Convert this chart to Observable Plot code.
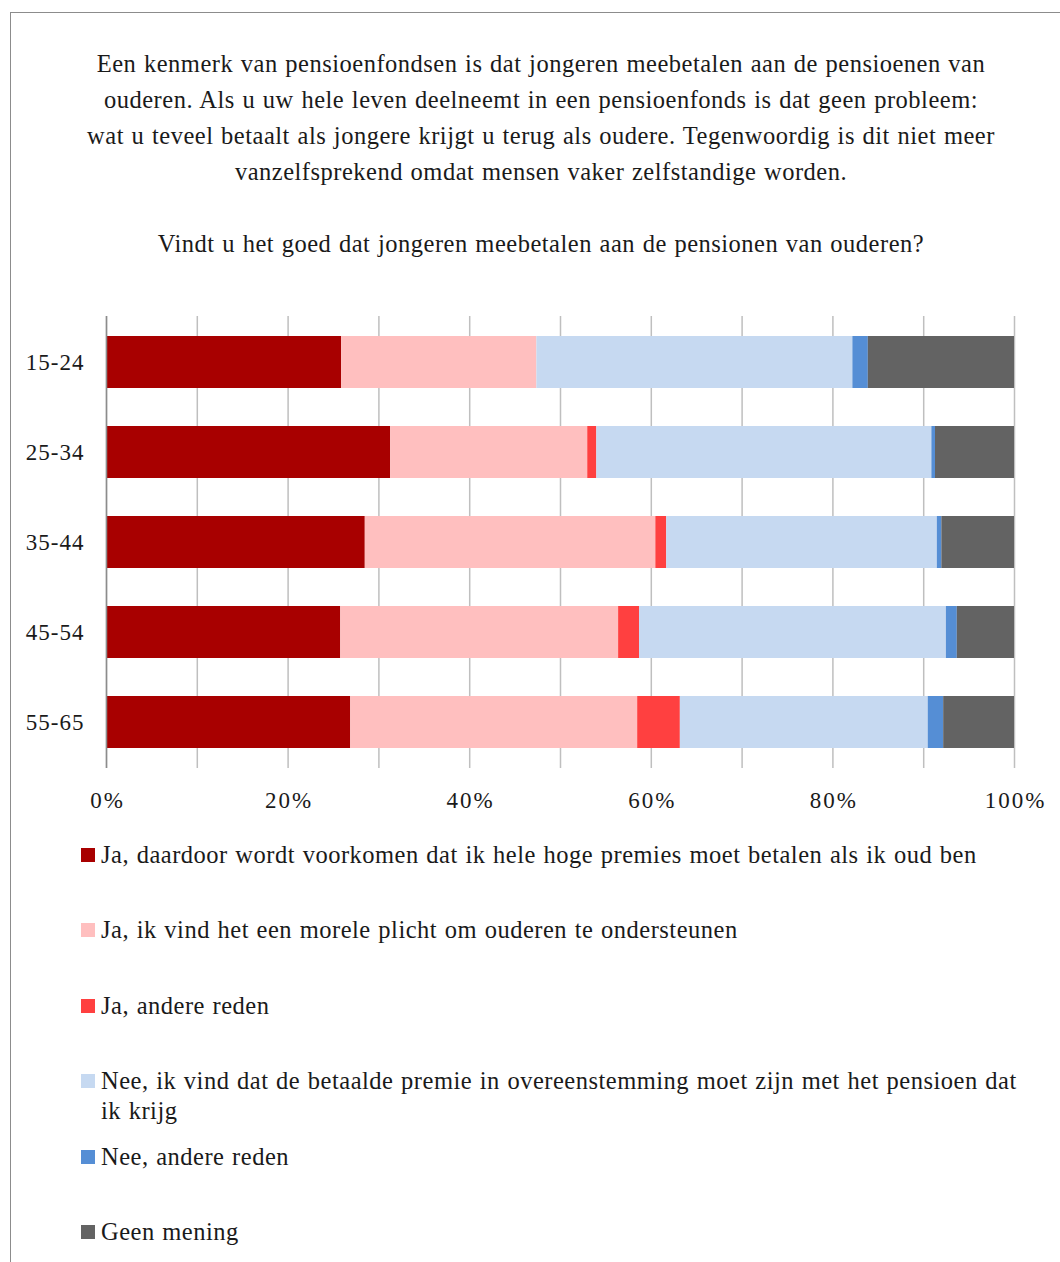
<!DOCTYPE html>
<html><head><meta charset="utf-8">
<script src="https://cdn.jsdelivr.net/npm/d3@7"></script>
<script src="https://cdn.jsdelivr.net/npm/@observablehq/plot@0.6"></script>
<style>
html,body{margin:0;padding:0;}
body{width:1060px;height:1262px;overflow:hidden;background:#fff;font-family:"Liberation Serif","DejaVu Serif",serif;color:#1a1a1a;position:relative;}
#frame{position:absolute;left:10px;top:12px;width:1080px;height:1300px;border:1.5px solid #8c8c8c;box-sizing:border-box;}
#title{position:absolute;left:10px;width:1062px;top:46px;text-align:center;font-size:24.5px;line-height:36px;letter-spacing:0.5px;word-spacing:1px;white-space:nowrap;}
#chart{position:absolute;left:10px;top:296px;}
#legend{position:absolute;left:81px;top:836px;width:970px;}
.item{position:relative;height:75.4px;font-size:24.5px;line-height:30px;letter-spacing:0.5px;word-spacing:1px;white-space:nowrap;}
.sw{position:absolute;left:0;top:12px;width:14px;height:14px;}
.lab{position:absolute;left:20px;top:4px;}
#chart g[aria-label="x-axis tick label"] text{letter-spacing:2px;}
#chart g[aria-label="y-axis tick label"] text{letter-spacing:1px;}
</style>
</head><body>
<div id="frame"></div>
<div id="title">Een kenmerk van pensioenfondsen is dat jongeren meebetalen aan de pensioenen van<br>ouderen. Als u uw hele leven deelneemt in een pensioenfonds is dat geen probleem:<br>wat u teveel betaalt als jongere krijgt u terug als oudere. Tegenwoordig is dit niet meer<br>vanzelfsprekend omdat mensen vaker zelfstandige worden.<br><br>Vindt u het goed dat jongeren meebetalen aan de pensionen van ouderen?</div>
<div id="chart"></div>
<div id="legend"></div>
<script>
const ages = ["15-24", "25-34", "35-44", "45-54", "55-65"];
const categories = [
  "Ja, daardoor wordt voorkomen dat ik hele hoge premies moet betalen als ik oud ben",
  "Ja, ik vind het een morele plicht om ouderen te ondersteunen",
  "Ja, andere reden",
  "Nee, ik vind dat de betaalde premie in overeenstemming moet zijn met het pensioen dat ik krijg",
  "Nee, andere reden",
  "Geen mening"
];
const legendLabels = [
  "Ja, daardoor wordt voorkomen dat ik hele hoge premies moet betalen als ik oud ben",
  "Ja, ik vind het een morele plicht om ouderen te ondersteunen",
  "Ja, andere reden",
  "Nee, ik vind dat de betaalde premie in overeenstemming moet zijn met het pensioen dat<br>ik krijg",
  "Nee, andere reden",
  "Geen mening"
];
const colors = ["#A80000", "#FFBFBF", "#FF4040", "#C6D9F1", "#558ED5", "#636363"];
// values per category, in the order of ages
const jaPremies   = [25.9, 31.3, 28.5, 25.8, 26.9];
const jaMoreel    = [21.5, 21.7, 32.0, 30.6, 31.6];
const jaAndere    = [0.0, 1.0, 1.2, 2.3, 4.7];
const neeOvereen  = [34.8, 36.9, 29.8, 33.8, 27.3];
const neeAndere   = [1.7, 0.4, 0.5, 1.2, 1.7];
const geenMening  = [16.1, 8.7, 8.0, 6.3, 7.8];
const xTicks = [0, 20, 40, 60, 80, 100];
const gridTicks = [0, 10, 20, 30, 40, 50, 60, 70, 80, 90, 100];

const series = [jaPremies, jaMoreel, jaAndere, neeOvereen, neeAndere, geenMening];
const data = [];
ages.forEach((age, i) => {
  series.forEach((s, j) => data.push({age, cat: categories[j], value: s[i]}));
});

const plot = Plot.plot({
  width: 1040,
  height: 522,
  marginLeft: 96,
  marginRight: 36,
  marginTop: 20,
  marginBottom: 50,
  style: {fontFamily: '"Liberation Serif", serif', fontSize: "23px", color: "#1a1a1a", background: "transparent", overflow: "visible"},
  x: {domain: [0, 100]},
  y: {domain: ages, paddingInner: 0.425, paddingOuter: 0.21},
  color: {domain: categories, range: colors},
  marks: [
    Plot.gridX(gridTicks, {stroke: "#bfbfbf", strokeOpacity: 1, strokeWidth: 1.5}),
    Plot.barX(data, {x: "value", y: "age", fill: "cat", order: categories}),
    Plot.ruleX([0], {stroke: "#8c8c8c", strokeWidth: 1.5}),
    Plot.axisX(xTicks, {tickSize: 0, tickPadding: 23, tickFormat: d => d + "%", fontSize: 23, label: null, dx: 1}),
    Plot.axisY({tickSize: 0, tickPadding: 22, fontSize: 23, label: null})
  ]
});
document.getElementById("chart").appendChild(plot);

const leg = document.getElementById("legend");
legendLabels.forEach((l, i) => {
  const d = document.createElement("div");
  d.className = "item";
  d.innerHTML = `<span class="sw" style="background:${colors[i]}"></span><span class="lab">${l}</span>`;
  leg.appendChild(d);
});
</script>
</body></html>
